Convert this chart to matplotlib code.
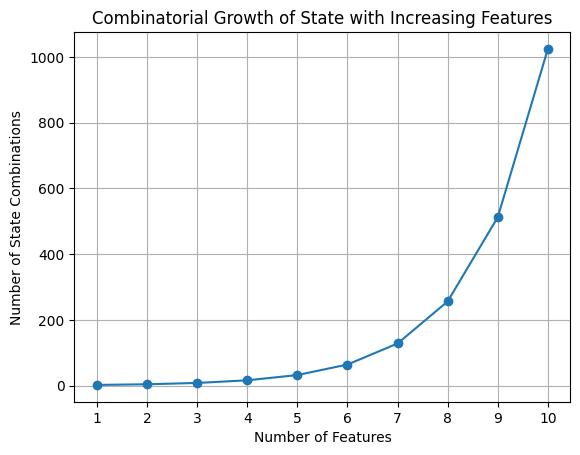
import matplotlib
matplotlib.use("Agg")
import matplotlib.pyplot as plt

features = [1, 2, 3, 4, 5, 6, 7, 8, 9, 10]
combinations = [2, 4, 8, 16, 32, 64, 128, 256, 512, 1024]

fig = plt.figure(figsize=(6.4, 4.8), dpi=100)
plt.plot(features, combinations, marker='o')
plt.title('Combinatorial Growth of State with Increasing Features')
plt.xlabel('Number of Features')
plt.ylabel('Number of State Combinations')
plt.xticks(features)
plt.grid(True)
plt.savefig('out.png', dpi=100, bbox_inches='tight')
